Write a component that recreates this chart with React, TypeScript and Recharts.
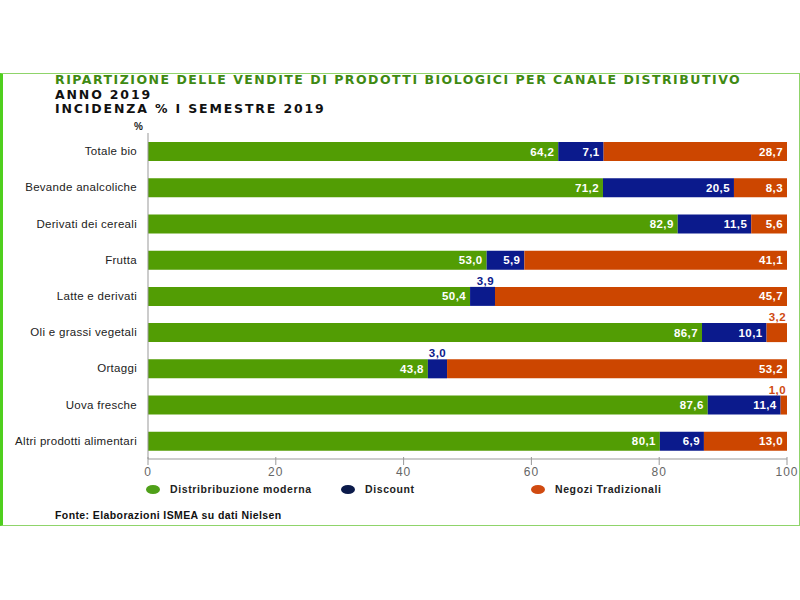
import React from "react"
import { BarChart, Bar, XAxis, YAxis, LabelList } from "recharts"

const categories = [
  "Totale bio",
  "Bevande analcoliche",
  "Derivati dei cereali",
  "Frutta",
  "Latte e derivati",
  "Oli e grassi vegetali",
  "Ortaggi",
  "Uova fresche",
  "Altri prodotti alimentari",
]
const moderna = [64.2, 71.2, 82.9, 53.0, 50.4, 86.7, 43.8, 87.6, 80.1]
const discount = [7.1, 20.5, 11.5, 5.9, 3.9, 10.1, 3.0, 11.4, 6.9]
const tradizionali = [28.7, 8.3, 5.6, 41.1, 45.7, 3.2, 53.2, 1.0, 13.0]
const seriesNames = ["Distribribuzione moderna", "Discount", "Negozi Tradizionali"]
const xTicks = [0, 20, 40, 60, 80, 100]

const GREEN = "#529d04"
const NAVY = "#0b1a8c"
const ORANGE = "#cc4600"
const FONT = "'Liberation Sans', Arial, sans-serif"
const HEAD = "'DejaVu Sans', 'Liberation Sans', sans-serif"

const data = categories.map((name, i) => ({
  name,
  moderna: moderna[i],
  discount: discount[i],
  tradizionali: tradizionali[i],
}))

const fmt = (v: number) => v.toFixed(1).replace(".", ",")

// small segments get their value above the bar, in the bar colour
const valueLabel = (color: string) => (props: any) => {
  const { x, y, width, height, value } = props
  const v = Number(value)
  const style = { fontFamily: FONT, fontSize: 11.5, fontWeight: 700, letterSpacing: 0.4 }
  if (v < 5) {
    return (
      <text x={x + width - 1} y={y - 2} textAnchor="end" fill={color} style={style}>
        {fmt(v)}
      </text>
    )
  }
  return (
    <text x={x + width - 4} y={y + height / 2 + 4} textAnchor="end" fill="#fff" style={style}>
      {fmt(v)}
    </text>
  )
}

const XTick = ({ x, y, payload }: any) => (
  <g>
    <line x1={x} x2={x} y1={y - 2} y2={y + 6} stroke="#999" />
    <text x={x} y={y + 17} textAnchor="middle" fill="#666"
      style={{ fontFamily: FONT, fontSize: 12, letterSpacing: 1 }}>
      {payload.value}
    </text>
  </g>
)

const YTick = ({ x, y, payload }: any) => (
  <text x={x - 11} y={y + 4} textAnchor="end" fill="#222"
    style={{ fontFamily: FONT, fontSize: 11.5, letterSpacing: 0.3 }}>
    {payload.value}
  </text>
)

const legendLeft = [146, 341, 531]
const legendMarkers = ["#4fa019", "#0b1a4a", "#d04a10"]

export default function App() {
  return (
    <div style={{ position: "fixed", top: 0, left: 0, width: 800, height: 600, background: "#fff", overflow: "hidden" }}>
      <div style={{ position: "absolute", left: 0, top: 73, width: 796, height: 451, borderTop: "1px solid #8fd46a", borderBottom: "1px solid #8fd46a", borderRight: "1px solid #8fd46a", borderLeft: "3px solid #4fcf1e" }} />
      {/* heading, three lines */}
      <svg width={800} height={130} style={{ position: "absolute", left: 0, top: 0 }}>
        <g style={{ fontFamily: HEAD, fontWeight: 700, fontSize: 12.5 }}>
          <text x={55} y={84} fill="#3f8a12" style={{ letterSpacing: 1.5 }}>RIPARTIZIONE DELLE VENDITE DI PRODOTTI BIOLOGICI PER CANALE DISTRIBUTIVO</text>
          <text x={55} y={98.7} fill="#111" style={{ letterSpacing: 1.85 }}>ANNO 2019</text>
          <text x={55} y={113.4} fill="#111" style={{ letterSpacing: 1.85 }}>INCIDENZA % I SEMESTRE 2019</text>
        </g>
      </svg>
      <div style={{ position: "absolute", left: 134, top: 121, fontFamily: FONT, fontSize: 10, fontWeight: 700, color: "#222" }}>%</div>
      <div style={{ position: "absolute", left: 55, top: 509, fontFamily: FONT, fontSize: 10.5, fontWeight: 700, color: "#111", letterSpacing: 0.4, whiteSpace: "nowrap" }}>
        Fonte: Elaborazioni ISMEA su dati Nielsen
      </div>
      {seriesNames.map((n, i) => (
        <div key={n} style={{ position: "absolute", left: legendLeft[i], top: 482, height: 14, display: "flex", alignItems: "center" }}>
          <span style={{ display: "inline-block", width: 14, height: 9, borderRadius: "50%", background: legendMarkers[i] }} />
          <span style={{ marginLeft: 10, fontFamily: FONT, fontSize: 10.5, fontWeight: 700, letterSpacing: 0.6, color: "#222" }}>
            {n}
          </span>
        </div>
      ))}
      <div style={{ position: "absolute", left: 0, top: 0 }}>
        <BarChart width={800} height={600} data={data} layout="vertical"
          margin={{ top: 133, right: 13, bottom: 111, left: 0 }} barSize={19}>
          <XAxis type="number" domain={[0, 100]} ticks={xTicks} axisLine={{ stroke: "#999" }}
            tickLine={false} tickSize={0} tickMargin={0} tick={<XTick />} height={30} interval={0} />
          <YAxis type="category" dataKey="name" width={148} axisLine={{ stroke: "#999" }}
            tickLine={false} tickSize={0} tickMargin={0} tick={<YTick />} interval={0} />
          <Bar dataKey="moderna" name={seriesNames[0]} stackId="a" fill={GREEN} isAnimationActive={false}>
            <LabelList dataKey="moderna" content={valueLabel(GREEN)} />
          </Bar>
          <Bar dataKey="discount" name={seriesNames[1]} stackId="a" fill={NAVY} isAnimationActive={false}>
            <LabelList dataKey="discount" content={valueLabel(NAVY)} />
          </Bar>
          <Bar dataKey="tradizionali" name={seriesNames[2]} stackId="a" fill={ORANGE} isAnimationActive={false}>
            <LabelList dataKey="tradizionali" content={valueLabel("#d04a10")} />
          </Bar>
        </BarChart>
      </div>
    </div>
  )
}
